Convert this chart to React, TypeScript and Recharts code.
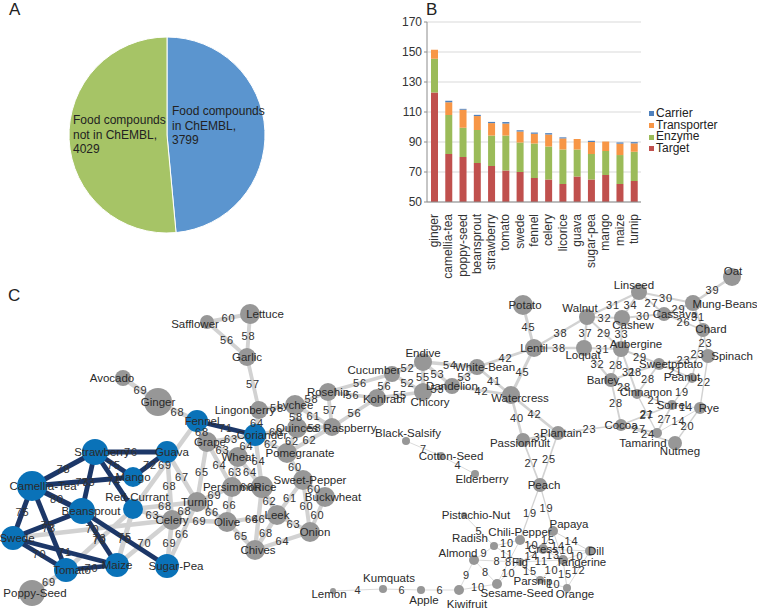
import React from "react";
import {
  PieChart,
  Pie,
  Cell,
  BarChart,
  Bar,
  XAxis,
  YAxis,
  CartesianGrid,
  ScatterChart,
  Scatter,
  ReferenceLine,
} from "recharts";

const FONT = '"Liberation Sans", Arial, sans-serif';

// ---- A: pie
const pieNames = ["Food compounds in ChEMBL", "Food compounds not in ChEMBL"];
const pieValues = [3799, 4029];
const pieLabelLines = [
  ["Food compounds", "in ChEMBL,", "3799"],
  ["Food compounds", "not in ChEMBL,", "4029"],
];

// ---- B: stacked bars
const foods = [
  "ginger", "camellia-tea", "poppy-seed", "beansprout", "strawberry", "tomato", "swede",
  "fennel", "celery", "licorice", "guava", "sugar-pea", "mango", "maize", "turnip",
];
const target = [123, 82, 80, 76, 74, 71, 70, 66, 65, 62, 67, 65, 68, 62, 64];
const enzyme = [22.5, 26, 19.5, 22, 20.3, 23.3, 19.7, 23, 22, 23, 18, 17, 16, 19.3, 19.5];
const transporter = [6, 8.5, 12, 9.3, 8.3, 8, 7.3, 6.5, 8, 7.4, 7, 8, 6.3, 7.6, 5.6];
const carrier = [0, 1, 0.6, 0.8, 0.8, 1, 0.9, 0.8, 0.9, 0.7, 0, 0.8, 0, 0.8, 0.8];
const yTicks = [50, 70, 90, 110, 130, 150, 170];

// ---- C: network (layout x, layout y, node size)
const blueNodes: [string, number, number, number][] = [
  ["Camellia-Tea", 32, 486, 15],
  ["Strawberry", 95, 452, 13],
  ["Guava", 167, 452, 11],
  ["Mango", 133, 477, 10],
  ["Red-Currant", 133, 509, 10],
  ["Beansprout", 82, 511, 13],
  ["Swede", 13, 538, 12],
  ["Tomato", 66, 570, 12],
  ["Maize", 117, 565, 12],
  ["Sugar-Pea", 167, 566, 12],
  ["Fennel", 197, 421, 11],
  ["Coriander", 255, 435, 11],
];
const grayNodes: [string, number, number, number][] = [
  ["Poppy-Seed", 32, 593, 13], ["Ginger", 158, 402, 14], ["Avocado", 123, 378, 8],
  ["Safflower", 207, 322, 7], ["Lettuce", 250, 314, 10], ["Garlic", 247, 357, 9],
  ["Lingonberry", 259, 410, 9], ["Lychee", 295, 405, 10], ["Rosehip", 328, 392, 9],
  ["Quinces", 297, 428, 10], ["Raspberry", 332, 427, 9], ["Kohlrabi", 377, 398, 9],
  ["Cucumber", 392, 374, 8], ["Endive", 423, 362, 9], ["Chicory", 423, 392, 9],
  ["Dandelion", 452, 386, 8], ["White-Bean", 477, 367, 8], ["Watercress", 511, 395, 9],
  ["Black-Salsify", 406, 441, 4], ["Cotton-Seed", 441, 456, 4], ["Elderberry", 475, 474, 4],
  ["Potato", 523, 305, 10], ["Lentil", 534, 348, 9], ["Walnut", 587, 317, 8],
  ["Linseed", 639, 292, 8], ["Oat", 732, 277, 9], ["Mung-Beans", 693, 303, 8],
  ["Cashew", 622, 318, 8], ["Cassava", 664, 314, 7], ["Chard", 703, 330, 7],
  ["Loquat", 584, 348, 8], ["Aubergine", 621, 349, 8], ["Spinach", 708, 356, 7],
  ["Sweetpotato", 659, 364, 6], ["Peanut", 692, 378, 5], ["Barley", 611, 380, 7],
  ["Cinnamon", 637, 394, 5], ["Sorrel", 672, 405, 5], ["Rye", 700, 408, 6],
  ["Cocoa", 621, 425, 6], ["Tamarind", 657, 433, 5], ["Nutmeg", 675, 443, 7],
  ["Plantain", 558, 433, 7], ["Passionfruit", 523, 440, 7], ["Peach", 540, 485, 7],
  ["Papaya", 553, 531, 5], ["Chili-Pepper", 520, 540, 5], ["Cress", 543, 549, 5],
  ["Dill", 590, 551, 5], ["Tangerine", 563, 560, 5], ["Fig", 520, 562, 4],
  ["Parsnip", 540, 580, 4], ["Orange", 567, 588, 4], ["Sesame-Seed", 497, 584, 5],
  ["Radish", 494, 546, 4], ["Almond", 474, 560, 5], ["Pistachio-Nut", 464, 515, 3],
  ["Kiwifruit", 459, 590, 5], ["Apple", 421, 590, 4], ["Kumquats", 383, 589, 4],
  ["Lemon", 333, 591, 3], ["Grape", 207, 442, 10], ["Wheat", 238, 457, 10],
  ["Pomegranate", 287, 453, 10], ["Persimmon", 232, 487, 10], ["Rice", 262, 487, 11],
  ["Turnip", 197, 502, 10], ["Sweet-Pepper", 303, 480, 10], ["Buckwheat", 325, 497, 10],
  ["Leek", 277, 515, 10], ["Onion", 310, 532, 10], ["Celery", 172, 520, 10],
  ["Olive", 227, 522, 10], ["Chives", 255, 550, 10],
];

const darkEdges: [string, string, number][] = [
  ["Camellia-Tea", "Strawberry", 78], ["Strawberry", "Guava", 76], ["Strawberry", "Mango", 75],
  ["Mango", "Guava", 72], ["Camellia-Tea", "Mango", 73], ["Strawberry", "Red-Currant", 74],
  ["Strawberry", "Beansprout", 73], ["Camellia-Tea", "Beansprout", 80], ["Camellia-Tea", "Swede", 75],
  ["Camellia-Tea", "Tomato", 73], ["Swede", "Beansprout", 75], ["Swede", "Maize", 71],
  ["Swede", "Tomato", 70], ["Beansprout", "Maize", 73], ["Beansprout", "Sugar-Pea", 70],
  ["Tomato", "Maize", 70], ["Fennel", "Coriander", 71],
];
const grayEdges: [string, string, number][] = [
  ["Tomato", "Poppy-Seed", 69], ["Ginger", "Fennel", 68], ["Avocado", "Ginger", 69],
  ["Swede", "Celery", 70], ["Tomato", "Red-Currant", 70], ["Maize", "Red-Currant", 75],
  ["Maize", "Celery", 70], ["Sugar-Pea", "Celery", 69], ["Sugar-Pea", "Turnip", 66],
  ["Red-Currant", "Turnip", 68], ["Red-Currant", "Celery", 63], ["Guava", "Turnip", 67],
  ["Guava", "Celery", 68], ["Fennel", "Red-Currant", 69], ["Grape", "Turnip", 65],
  ["Grape", "Persimmon", 64], ["Grape", "Wheat", 63], ["Fennel", "Grape", 68],
  ["Coriander", "Grape", 63], ["Coriander", "Wheat", 64], ["Coriander", "Rice", 64],
  ["Coriander", "Lingonberry", 64], ["Coriander", "Quinces", 60], ["Coriander", "Pomegranate", 62],
  ["Wheat", "Persimmon", 63], ["Wheat", "Rice", 64], ["Turnip", "Persimmon", 69],
  ["Turnip", "Olive", 66], ["Celery", "Olive", 69], ["Celery", "Turnip", 68],
  ["Persimmon", "Olive", 66], ["Persimmon", "Rice", 66], ["Olive", "Chives", 65],
  ["Olive", "Leek", 64], ["Rice", "Leek", 62], ["Rice", "Chives", 66],
  ["Leek", "Chives", 68], ["Leek", "Onion", 63], ["Leek", "Sweet-Pepper", 61],
  ["Chives", "Onion", 64], ["Sweet-Pepper", "Buckwheat", 60], ["Sweet-Pepper", "Onion", 60],
  ["Buckwheat", "Onion", 60], ["Pomegranate", "Sweet-Pepper", 60], ["Pomegranate", "Raspberry", 62],
  ["Pomegranate", "Quinces", 62], ["Quinces", "Lychee", 58], ["Quinces", "Raspberry", 58],
  ["Lychee", "Lingonberry", 58], ["Lychee", "Rosehip", 58], ["Lychee", "Raspberry", 61],
  ["Rosehip", "Raspberry", 57], ["Rosehip", "Kohlrabi", 56], ["Rosehip", "Cucumber", 56],
  ["Raspberry", "Kohlrabi", 56], ["Kohlrabi", "Cucumber", 56], ["Kohlrabi", "Chicory", 55],
  ["Cucumber", "Endive", 52], ["Cucumber", "Chicory", 52], ["Endive", "Chicory", 55],
  ["Endive", "Dandelion", 53], ["Endive", "White-Bean", 54], ["Chicory", "Dandelion", 53],
  ["Dandelion", "White-Bean", 53], ["Dandelion", "Watercress", 42], ["White-Bean", "Watercress", 41],
  ["White-Bean", "Lentil", 42], ["Lentil", "Watercress", 45], ["Lentil", "Potato", 45],
  ["Lentil", "Walnut", 38], ["Lentil", "Loquat", 38], ["Watercress", "Passionfruit", 40],
  ["Watercress", "Plantain", 42], ["Passionfruit", "Plantain", 35], ["Passionfruit", "Peach", 27],
  ["Plantain", "Peach", 25], ["Plantain", "Cocoa", 23], ["Lingonberry", "Garlic", 57],
  ["Garlic", "Safflower", 56], ["Garlic", "Lettuce", 58], ["Safflower", "Lettuce", 60],
  ["Walnut", "Linseed", 31], ["Walnut", "Cashew", 32], ["Walnut", "Loquat", 37],
  ["Walnut", "Aubergine", 29], ["Linseed", "Cashew", 34], ["Linseed", "Cassava", 27],
  ["Linseed", "Mung-Beans", 30], ["Mung-Beans", "Oat", 39], ["Mung-Beans", "Cassava", 29],
  ["Mung-Beans", "Chard", 31], ["Cassava", "Cashew", 30], ["Cassava", "Chard", 26],
  ["Cashew", "Aubergine", 33], ["Loquat", "Aubergine", 31], ["Loquat", "Barley", 32],
  ["Aubergine", "Sweetpotato", 29], ["Aubergine", "Barley", 28], ["Aubergine", "Cinnamon", 31],
  ["Chard", "Spinach", 23], ["Chard", "Peanut", 23], ["Spinach", "Sweetpotato", 23],
  ["Spinach", "Rye", 22], ["Sweetpotato", "Peanut", 21], ["Sweetpotato", "Barley", 28],
  ["Sweetpotato", "Cinnamon", 28], ["Barley", "Cinnamon", 28], ["Barley", "Cocoa", 28],
  ["Peanut", "Sorrel", 19], ["Cinnamon", "Sorrel", 21], ["Cinnamon", "Tamarind", 21],
  ["Sorrel", "Rye", 14], ["Sorrel", "Cocoa", 27], ["Sorrel", "Tamarind", 27],
  ["Rye", "Tamarind", 14], ["Rye", "Nutmeg", 20], ["Cocoa", "Tamarind", 27],
  ["Cocoa", "Nutmeg", 24], ["Peach", "Chili-Pepper", 19], ["Peach", "Papaya", 19],
  ["Black-Salsify", "Cotton-Seed", 7], ["Cotton-Seed", "Elderberry", 4], ["Lemon", "Kumquats", 4],
  ["Kumquats", "Apple", 6], ["Apple", "Kiwifruit", 6], ["Kiwifruit", "Almond", 9],
  ["Kiwifruit", "Sesame-Seed", 10], ["Almond", "Radish", 9], ["Almond", "Sesame-Seed", 8],
  ["Almond", "Fig", 8], ["Pistachio-Nut", "Radish", 5], ["Radish", "Chili-Pepper", 10],
  ["Chili-Pepper", "Cress", 10], ["Chili-Pepper", "Sesame-Seed", 8], ["Papaya", "Cress", 15],
  ["Papaya", "Dill", 14], ["Papaya", "Tangerine", 14], ["Cress", "Tangerine", 13],
  ["Cress", "Fig", 14], ["Cress", "Dill", 10], ["Fig", "Parsnip", 15],
  ["Fig", "Tangerine", 11], ["Fig", "Sesame-Seed", 10], ["Parsnip", "Tangerine", 10],
  ["Parsnip", "Orange", 10], ["Tangerine", "Orange", 15], ["Dill", "Orange", 12],
  ["Dill", "Tangerine", 10], ["Radish", "Fig", 11],
];

// label nudges (px) so names sit where the original layout put them
const labelNudge: Record<string, [number, number]> = {
  "Camellia-Tea": [11, 0], "Strawberry": [7, 0], "Guava": [5, 0], "Red-Currant": [4, -12],
  "Beansprout": [9, 0], "Tomato": [6, 0], "Sugar-Pea": [9, 0], "Fennel": [5, 0], "Coriander": [7, 0],
  "Swede": [4, 0], "Oat": [1, -6],
  "Lettuce": [15, 0], "Safflower": [-12, 2], "Lingonberry": [-14, 0], "Cucumber": [-18, -4],
  "Endive": [0, -9], "White-Bean": [8, 0], "Chicory": [7, 10], "Kohlrabi": [7, 1], "Raspberry": [18, 1],
  "Pomegranate": [13, 0], "Black-Salsify": [2, -8], "Cotton-Seed": [10, 0], "Elderberry": [7, 5],
  "Kumquats": [6, -11], "Apple": [3, 10], "Lemon": [-4, 3], "Kiwifruit": [8, 14], "Sesame-Seed": [20, 9],
  "Orange": [8, 6], "Radish": [-24, -8], "Almond": [-16, -7], "Tangerine": [18, 2], "Papaya": [16, -7],
  "Chili-Pepper": [0, -8], "Pistachio-Nut": [12, 0], "Dill": [6, 0], "Parsnip": [-7, 1],
  "Nutmeg": [5, 8], "Tamarind": [-14, 10], "Walnut": [-7, -9], "Linseed": [-5, -7], "Mung-Beans": [32, 1],
  "Cashew": [11, 7], "Cassava": [11, 0], "Chard": [8, -1], "Loquat": [-1, 7], "Aubergine": [15, -5],
  "Spinach": [24, 0], "Sweetpotato": [12, 0], "Peanut": [-10, -1], "Barley": [-8, 0], "Cinnamon": [9, -2],
  "Rye": [9, 0], "Watercress": [9, 3], "Passionfruit": [-3, 3], "Avocado": [-11, 0], "Poppy-Seed": [3, 0],
  "Grape": [3, 0], "Buckwheat": [8, 0], "Sweet-Pepper": [7, 0], "Onion": [5, 0], "Chives": [3, 0],
  "Rice": [3, 0], "Peach": [4, 0], "Potato": [2, 0], "Plantain": [3, 0],
};

const nodeIndex: Record<string, { x: number; y: number }> = {};
[...blueNodes, ...grayNodes].forEach(([n, x, y]) => (nodeIndex[n] = { x, y }));

const nodeData = [
  ...grayNodes.map(([name, x, y, r]) => ({ name, x, y, r, fill: "#979797" })),
  ...blueNodes.map(([name, x, y, r]) => ({ name, x, y, r, fill: "#0a72b8" })),
];
const allEdges = [...grayEdges, ...darkEdges];
const edgeLabelData = allEdges.map(([a, b, w]) => ({
  x: (nodeIndex[a].x + nodeIndex[b].x) / 2,
  y: (nodeIndex[a].y + nodeIndex[b].y) / 2,
  w,
}));

const edgeWidth = (w: number) => Math.max(0.8, w / 15);

const FoodTick = (props: any) => {
  const { x, y, payload } = props;
  const yy = y + 4;
  return (
    <text
      x={x}
      y={yy}
      transform={`rotate(-90 ${x} ${yy})`}
      textAnchor="end"
      dominantBaseline="central"
      fontSize={12}
      fill="#333"
      fontFamily={FONT}
    >
      {payload.value}
    </text>
  );
};

const NodeShape = (props: any) => (
  <circle cx={props.cx} cy={props.cy} r={props.payload.r} fill={props.payload.fill} />
);

const NodeLabel = (props: any) => {
  const [dx, dy] = labelNudge[props.payload.name] || [0, 0];
  return (
    <text
      x={props.cx + dx}
      y={props.cy + dy}
      textAnchor="middle"
      dominantBaseline="central"
      fontSize={11.5}
      fill="#2a2a2a"
      fontFamily={FONT}
    >
      {props.payload.name}
    </text>
  );
};

const EdgeLabel = (props: any) => (
  <text
    x={props.cx}
    y={props.cy}
    textAnchor="middle"
    dominantBaseline="central"
    fontSize={11}
    letterSpacing={1}
    fill="#333"
    fontFamily={FONT}
  >
    {props.payload.w}
  </text>
);

export default function App() {
  const pieData = pieNames.map((name, i) => ({ name, value: pieValues[i] }));
  const barData = foods.map((name, i) => ({
    name,
    Target: target[i],
    Enzyme: enzyme[i],
    Transporter: transporter[i],
    Carrier: carrier[i],
  }));
  const series = [
    { key: "Carrier", color: "#4f81bd" },
    { key: "Transporter", color: "#f79646" },
    { key: "Enzyme", color: "#9bbb59" },
    { key: "Target", color: "#c0504d" },
  ];
  const pieColors = ["#5b95cf", "#a6c466"];
  const labelOffsets = [
    [5, -20],
    [-94, -11],
  ];

  const panelLetter = (t: string, left: number, top: number) => (
    <div style={{ position: "absolute", left, top, fontSize: 17, fontFamily: FONT, color: "#222" }}>{t}</div>
  );

  return (
    <div
      style={{
        position: "absolute",
        left: 0,
        top: 0,
        width: 757,
        height: 612,
        background: "#fff",
        overflow: "hidden",
        fontFamily: FONT,
      }}
    >
      {panelLetter("A", 9, 0)}
      {panelLetter("B", 426, 0)}
      {panelLetter("C", 8, 286)}

      <div style={{ position: "absolute", left: 0, top: 0 }}>
        <PieChart width={330} height={250} margin={{ top: 0, right: 0, bottom: 0, left: 0 }}>
          <Pie
            data={pieData}
            dataKey="value"
            nameKey="name"
            cx={167}
            cy={135}
            outerRadius={98}
            startAngle={90}
            endAngle={-270}
            stroke="#fff"
            strokeWidth={1}
            isAnimationActive={false}
            labelLine={false}
            label={(p: any) => {
              const [ox, oy] = labelOffsets[p.index];
              return (
                <text x={p.cx + ox} y={p.cy + oy} fontSize={12} fill="#222" fontFamily={FONT}>
                  {pieLabelLines[p.index].map((l, j) => (
                    <tspan key={j} x={p.cx + ox} dy={j === 0 ? 0 : 14.5}>
                      {l}
                    </tspan>
                  ))}
                </text>
              );
            }}
          >
            {pieData.map((d, i) => (
              <Cell key={d.name} fill={pieColors[i]} />
            ))}
          </Pie>
        </PieChart>
      </div>

      <div style={{ position: "absolute", left: 395, top: 0 }}>
        <BarChart
          width={362}
          height={290}
          data={barData}
          margin={{ top: 22, right: 116, bottom: 8, left: 0 }}
          barCategoryGap={0}
        >
          <CartesianGrid vertical={false} stroke="#d9d9d9" />
          <XAxis
            dataKey="name"
            interval={0}
            height={80}
            tickLine={false}
            axisLine={{ stroke: "#8c8c8c" }}
            tick={<FoodTick />}
          />
          <YAxis
            width={32}
            domain={[50, 170]}
            ticks={yTicks}
            allowDataOverflow
            tickSize={3}
            tickLine={{ stroke: "#8c8c8c" }}
            axisLine={{ stroke: "#8c8c8c" }}
            tick={{ fontSize: 12, fill: "#333", fontFamily: FONT }}
          />
          {[...series].reverse().map((s) => (
            <Bar key={s.key} dataKey={s.key} stackId="a" fill={s.color} barSize={7} isAnimationActive={false} />
          ))}
        </BarChart>
      </div>

      <div style={{ position: "absolute", left: 649, top: 108, fontSize: 12, lineHeight: "11.7px", color: "#222" }}>
        {series.map((s) => (
          <div key={s.key} style={{ display: "flex", alignItems: "center" }}>
            <span style={{ width: 5, height: 5, background: s.color, marginRight: 2 }} />
            <span>{s.key}</span>
          </div>
        ))}
      </div>

      <div style={{ position: "absolute", left: 0, top: 258 }}>
        <ScatterChart width={757} height={354} margin={{ top: 0, right: 0, bottom: 0, left: 0 }}>
          <XAxis type="number" dataKey="x" domain={[0, 757]} hide />
          <YAxis type="number" dataKey="y" domain={[258, 612]} reversed hide />
          {grayEdges.map(([a, b, w], i) => (
            <ReferenceLine
              key={"g" + i}
              segment={[nodeIndex[a], nodeIndex[b]]}
              stroke="#d2d2d2"
              strokeWidth={edgeWidth(w)}
              ifOverflow="visible"
            />
          ))}
          {darkEdges.map(([a, b, w], i) => (
            <ReferenceLine
              key={"d" + i}
              segment={[nodeIndex[a], nodeIndex[b]]}
              stroke="#1c3768"
              strokeWidth={edgeWidth(w)}
              ifOverflow="visible"
            />
          ))}
          <Scatter data={nodeData} shape={<NodeShape />} isAnimationActive={false} />
          <Scatter data={edgeLabelData} shape={<EdgeLabel />} isAnimationActive={false} />
          <Scatter data={nodeData} shape={<NodeLabel />} isAnimationActive={false} />
        </ScatterChart>
      </div>
    </div>
  );
}
